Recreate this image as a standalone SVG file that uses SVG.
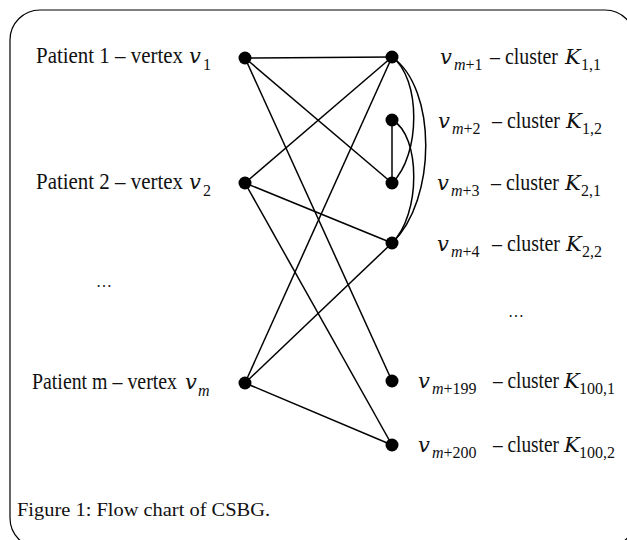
<svg xmlns="http://www.w3.org/2000/svg" width="627" height="540" viewBox="0 0 627 540">
<style>
.lbl{font-family:"Liberation Serif","Times New Roman",serif;font-size:24px;fill:#111}
.math{font-family:"DejaVu Serif","Liberation Serif",serif;font-size:21px;fill:#111}
.mv{font-family:"DejaVu Serif","Liberation Serif",serif;font-style:italic;font-size:21px}
.sub{font-family:"Liberation Serif","Times New Roman",serif;font-style:normal;font-size:16px;fill:#111}
.it{font-style:italic}
.cap{font-family:"Liberation Serif","Times New Roman",serif;font-size:19px;fill:#111}
.edge{stroke:#000;stroke-width:1.5;fill:none}
.node{fill:#000}
</style>
<rect x="10" y="10" width="625" height="538" rx="30" ry="30" fill="none" stroke="#000" stroke-width="1.2"/>
<g id="connectors">
<line class="edge" x1="245" y1="58" x2="392" y2="57"/>
<line class="edge" x1="245" y1="58" x2="392" y2="183"/>
<line class="edge" x1="245" y1="58" x2="392" y2="381"/>
<line class="edge" x1="245" y1="183" x2="392" y2="57"/>
<line class="edge" x1="245" y1="183" x2="392" y2="243"/>
<line class="edge" x1="245" y1="183" x2="392" y2="445"/>
<line class="edge" x1="245" y1="383" x2="392" y2="57"/>
<line class="edge" x1="245" y1="383" x2="392" y2="243"/>
<line class="edge" x1="245" y1="383" x2="392" y2="445"/>
<line class="edge" x1="392" y1="120" x2="392" y2="183"/>
<path class="edge" d="M392,57 C421,78 421,155 392,183"/>
<path class="edge" d="M392,57 C437,88 437,200 392,243"/>
<path class="edge" d="M392,120 C421,135 421,215 392,243"/>
</g>
<g id="v1">
<circle class="node" cx="245" cy="58" r="6.5"/>
<text class="lbl" x="36" y="63" textLength="147" lengthAdjust="spacingAndGlyphs">Patient 1 – vertex</text>
<text class="math" x="189" y="63"><tspan class="mv">v</tspan><tspan class="sub" x="203" y="70">1</tspan></text>
</g>
<g id="v2">
<circle class="node" cx="245" cy="183" r="6.5"/>
<text class="lbl" x="36" y="189" textLength="147" lengthAdjust="spacingAndGlyphs">Patient 2 – vertex</text>
<text class="math" x="189" y="189"><tspan class="mv">v</tspan><tspan class="sub" x="203" y="196">2</tspan></text>
</g>
<g id="dots-left">
<text class="sub" x="96" y="287">…</text>
</g>
<g id="vm">
<circle class="node" cx="245" cy="383" r="6.5"/>
<text class="lbl" x="32" y="389" textLength="145" lengthAdjust="spacingAndGlyphs">Patient m – vertex</text>
<text class="math" x="185" y="389"><tspan class="mv">v</tspan><tspan class="sub it" x="198" y="396">m</tspan></text>
</g>
<g id="vm1">
<circle class="node" cx="392" cy="57" r="6.5"/>
<text class="math" x="440" y="64"><tspan class="mv">v</tspan><tspan class="sub" x="454" y="70"><tspan class="it">m</tspan>+1</tspan></text>
<text class="lbl" x="490" y="64" textLength="68" lengthAdjust="spacingAndGlyphs">– cluster</text>
<text class="math" x="565" y="64"><tspan class="mv">K</tspan><tspan class="sub" x="581" y="70">1,1</tspan></text>
</g>
<g id="vm2">
<circle class="node" cx="392" cy="120" r="6.5"/>
<text class="math" x="438" y="128"><tspan class="mv">v</tspan><tspan class="sub" x="452" y="134"><tspan class="it">m</tspan>+2</tspan></text>
<text class="lbl" x="492" y="128" textLength="68" lengthAdjust="spacingAndGlyphs">– cluster</text>
<text class="math" x="566" y="128"><tspan class="mv">K</tspan><tspan class="sub" x="582" y="134">1,2</tspan></text>
</g>
<g id="vm3">
<circle class="node" cx="392" cy="183" r="6.5"/>
<text class="math" x="437" y="190"><tspan class="mv">v</tspan><tspan class="sub" x="451" y="196"><tspan class="it">m</tspan>+3</tspan></text>
<text class="lbl" x="491" y="190" textLength="68" lengthAdjust="spacingAndGlyphs">– cluster</text>
<text class="math" x="565" y="190"><tspan class="mv">K</tspan><tspan class="sub" x="581" y="196">2,1</tspan></text>
</g>
<g id="vm4">
<circle class="node" cx="392" cy="243" r="6.5"/>
<text class="math" x="437" y="251"><tspan class="mv">v</tspan><tspan class="sub" x="451" y="257"><tspan class="it">m</tspan>+4</tspan></text>
<text class="lbl" x="492" y="251" textLength="68" lengthAdjust="spacingAndGlyphs">– cluster</text>
<text class="math" x="566" y="251"><tspan class="mv">K</tspan><tspan class="sub" x="582" y="257">2,2</tspan></text>
</g>
<g id="dots-right">
<text class="sub" x="508" y="317">…</text>
</g>
<g id="vm199">
<circle class="node" cx="392" cy="381" r="6.5"/>
<text class="math" x="418" y="388"><tspan class="mv">v</tspan><tspan class="sub" x="432" y="394"><tspan class="it">m</tspan>+199</tspan></text>
<text class="lbl" x="493" y="388" textLength="66" lengthAdjust="spacingAndGlyphs">– cluster</text>
<text class="math" x="564" y="388"><tspan class="mv">K</tspan><tspan class="sub" x="579" y="394">100,1</tspan></text>
</g>
<g id="vm200">
<circle class="node" cx="392" cy="445" r="6.5"/>
<text class="math" x="418" y="452"><tspan class="mv">v</tspan><tspan class="sub" x="432" y="458"><tspan class="it">m</tspan>+200</tspan></text>
<text class="lbl" x="493" y="452" textLength="66" lengthAdjust="spacingAndGlyphs">– cluster</text>
<text class="math" x="564" y="452"><tspan class="mv">K</tspan><tspan class="sub" x="579" y="458">100,2</tspan></text>
</g>
<text class="cap" x="17" y="516" textLength="253" lengthAdjust="spacingAndGlyphs">Figure 1: Flow chart of CSBG.</text>
</svg>
